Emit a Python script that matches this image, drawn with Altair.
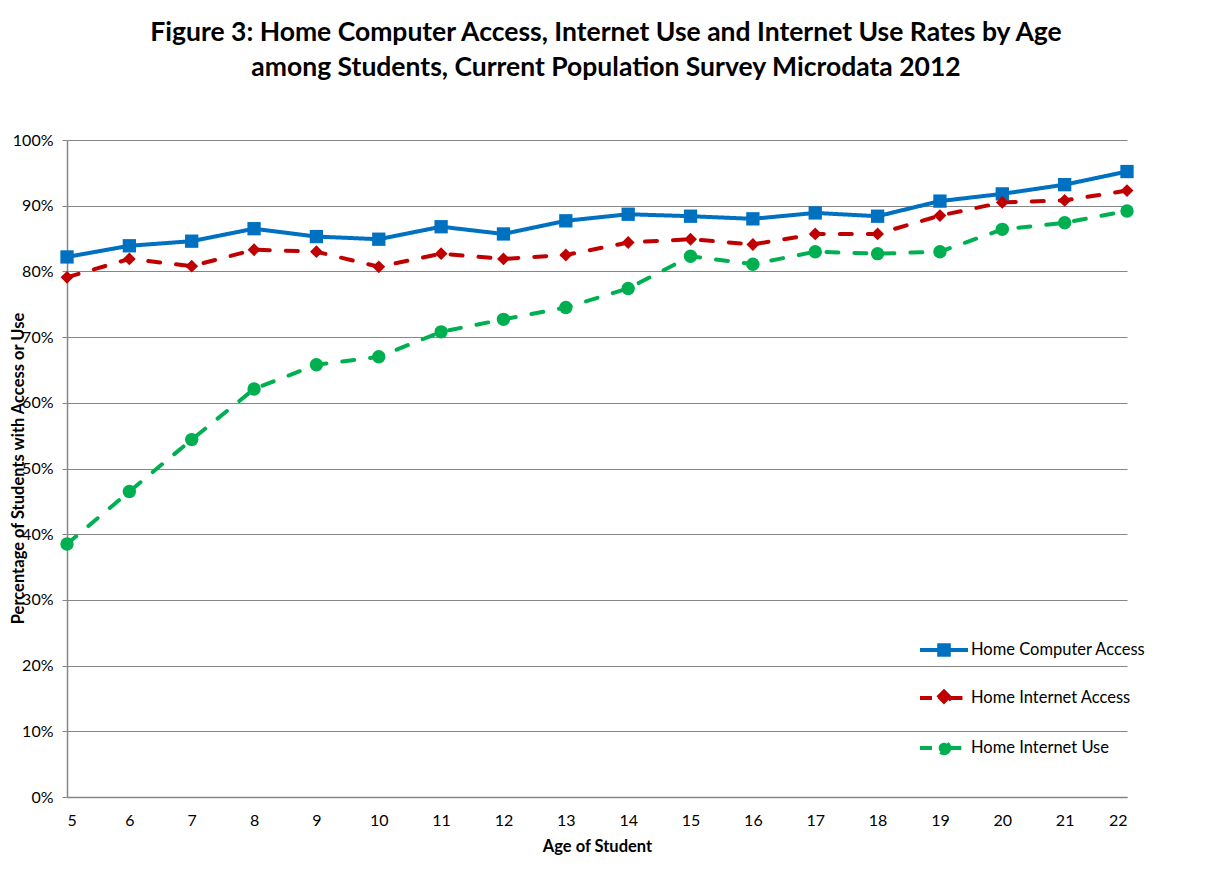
import altair as alt
import pandas as pd

ages = [5, 6, 7, 8, 9, 10, 11, 12, 13, 14, 15, 16, 17, 18, 19, 20, 21, 22]
computer_access = [82.2, 83.9, 84.6, 86.5, 85.3, 84.9, 86.8, 85.7, 87.7, 88.7, 88.4, 88.0, 88.9, 88.4, 90.7, 91.8, 93.2, 95.2]
internet_access = [79.1, 81.9, 80.8, 83.3, 83.0, 80.7, 82.7, 81.9, 82.5, 84.4, 84.9, 84.1, 85.7, 85.7, 88.5, 90.5, 90.8, 92.3]
internet_use = [38.5, 46.5, 54.4, 62.1, 65.8, 67.0, 70.8, 72.7, 74.5, 77.4, 82.3, 81.1, 83.0, 82.7, 83.0, 86.4, 87.4, 89.2]

series = ["Home Computer Access", "Home Internet Access", "Home Internet Use"]
colors = ["#0070C0", "#C00000", "#00B050"]
shapes = ["square", "diamond", "circle"]
dashes = [[1, 0], [12, 16], [12, 16]]

rows = []
for s, vals in zip(series, [computer_access, internet_access, internet_use]):
    for a, v in zip(ages, vals):
        rows.append({"age": a, "value": v / 100.0, "series": s})
df = pd.DataFrame(rows)

FONT = "Lato"

x = alt.X("age:Q", scale=alt.Scale(domain=[5, 22], nice=False, zero=False),
          axis=alt.Axis(values=ages, format="d", title="Age of Student", grid=False,
                        ticks=False, labelPadding=15, labelFontSize=16, labelFont=FONT,
                        labelColor="#000000", titleFont=FONT, titleFontSize=16.5,
                        titleFontWeight="bold", titleColor="#000000", titlePadding=10,
                        domainColor="#868686", domainWidth=1.5))
y = alt.Y("value:Q", scale=alt.Scale(domain=[0, 1], nice=False),
          axis=alt.Axis(values=[i / 10 for i in range(11)], format=".0%",
                        title="Percentage of Students with Access or Use",
                        grid=True, gridColor="#868686", gridWidth=1,
                        tickSize=5, tickColor="#868686", labelPadding=9,
                        labelFontSize=16, labelFont=FONT, labelColor="#000000",
                        titleFont=FONT, titleFontSize=16.5, titleFontWeight="bold",
                        titleColor="#000000", titleX=-49, titleY=328,
                        titleAngle=270, titleAlign="center", titleBaseline="middle",
                        domainColor="#868686", domainWidth=1.5))

p_square = "M-1,0H-0.2M0.2,0H1M-0.2,-0.2H0.2V0.2H-0.2Z"
p_diamond = "M-1,0H-0.27M0.27,0H1M0,-0.27L0.27,0L0,0.27L-0.27,0Z"
p_circle = "M-1,0H-0.22M0.22,0H1M0.22,0A0.22,0.22 0 1 1 -0.22,0A0.22,0.22 0 1 1 0.22,0Z"

leg = alt.Legend(title=None, orient="none", legendX=851, legendY=484,
                 symbolSize=2304, symbolStrokeWidth=4, labelFontSize=16.5,
                 labelFont=FONT, labelColor="#000000", labelOffset=1,
                 labelLimit=400, rowPadding=9, padding=0, symbolDash=[1, 0],
                 symbolFillColor="transparent")

color = alt.Color("series:N", scale=alt.Scale(domain=series, range=colors), legend=leg)

base = alt.Chart(df)

lines = base.mark_line(strokeWidth=4, strokeCap="round").encode(
    x=x, y=y, color=color,
    strokeDash=alt.StrokeDash("series:N", scale=alt.Scale(domain=series, range=dashes), legend=None),
    order="age:Q",
)

point_layers = []
sizes = {"square": 177, "diamond": 165, "circle": 180}
for s, sh in zip(series, shapes):
    point_layers.append(
        base.transform_filter(alt.datum.series == s)
        .mark_point(filled=True, shape=sh, size=sizes[sh], opacity=1)
        .encode(x=x, y=y, color=color)
    )

legend_layer = base.mark_point(filled=True, size=0, strokeWidth=0).encode(
    x=x, y=y, color=color,
    shape=alt.Shape("series:N", scale=alt.Scale(domain=series, range=[p_square, p_diamond, p_circle]), legend=leg),
)

chart = alt.layer(lines, *point_layers, legend_layer).properties(
    width=1060, height=657,
    title=alt.TitleParams(
        text=["Figure 3: Home Computer Access, Internet Use and Internet Use Rates by Age",
              "among Students, Current Population Survey Microdata 2012"],
        font=FONT, fontSize=26.5, fontWeight="bold", color="#000000",
        anchor="middle", lineHeight=35, offset=51, dx=9),
    autosize=alt.AutoSizeParams(type="none"),
    padding={"left": 59, "top": 132, "right": 77, "bottom": 75},
    background="white",
).configure_view(stroke=None)

chart.save("out.html", embed_options={"renderer": "svg", "actions": False})
